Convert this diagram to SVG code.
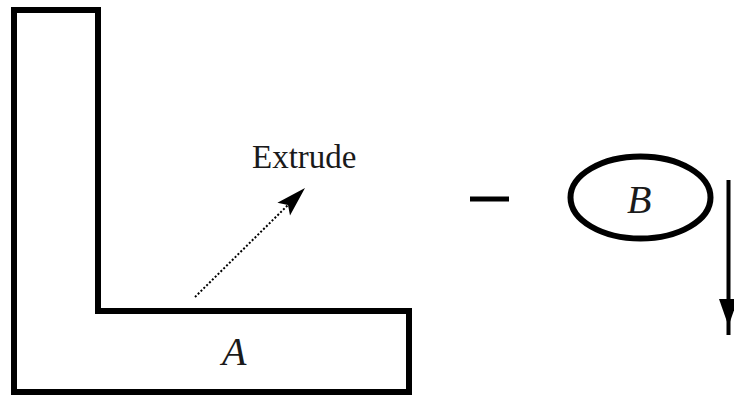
<svg xmlns="http://www.w3.org/2000/svg" width="734" height="396" viewBox="0 0 734 396">
<style>
.shape{fill:none;stroke:#000;stroke-width:6;stroke-linejoin:miter}
.lbl{font-family:"Liberation Serif","Times New Roman",serif;fill:#1a1a1a}
.it{font-style:italic}
.dot{stroke:#000;stroke-width:2;stroke-dasharray:2 2;fill:none}
.solid{stroke:#000;stroke-width:4;fill:none}
.head{fill:#000}
</style>
<rect width="734" height="396" fill="#fff"/>
<g id="shapeA">
<path class="shape" d="M14,10 H98 V311 H409 V392 H14 Z"/>
<text class="lbl it" x="222" y="365" font-size="40">A</text>
</g>
<g id="extrudeLabel">
<text class="lbl" x="252" y="168" font-size="33">Extrude</text>
</g>
<g id="minus">
<line x1="470" y1="199" x2="509" y2="199" stroke="#000" stroke-width="5"/>
</g>
<g id="shapeB">
<ellipse class="shape" cx="640.5" cy="197.5" rx="70" ry="41" stroke-width="5"/>
<text class="lbl it" x="627" y="213" font-size="40">B</text>
</g>
<g id="connectors">
<line class="dot" x1="195" y1="297" x2="288" y2="205"/>
<polygon class="head" points="305,188 290,215.5 288,204.9 277.4,202.7"/>
<line class="solid" x1="728.5" y1="180" x2="728.5" y2="335"/>
<polygon class="head" points="719,299 738,299 728.5,326"/>
</g>
</svg>
